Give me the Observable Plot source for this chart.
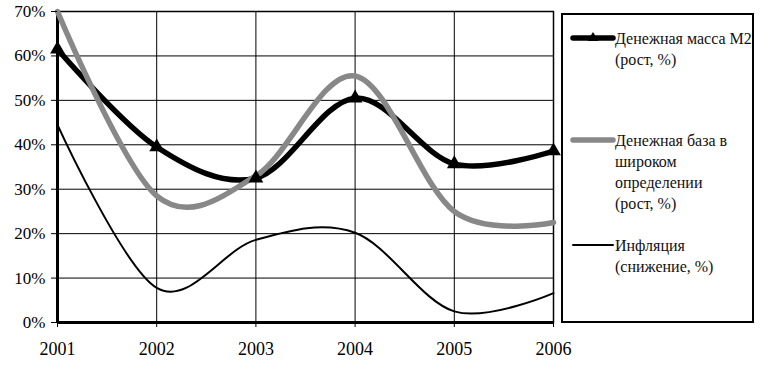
<!DOCTYPE html>
<html>
<head>
<meta charset="utf-8">
<script src="https://cdn.jsdelivr.net/npm/d3@7"></script>
<script src="https://cdn.jsdelivr.net/npm/@observablehq/plot@0.6"></script>
<style>
  body { margin: 0; padding: 0; background: #fff; font: 16px 'Liberation Serif', monospace; }
  svg text { font-family: 'Liberation Serif', monospace; }
</style>
</head>
<body style="font:16px 'Liberation Serif', monospace">
<div id="wrap" style="position:relative;width:767px;height:365px;font:16px 'Liberation Serif', monospace">
  <div id="p"></div>
  <div id="legend" style="position:absolute;left:561px;top:13px;width:189px;height:306px;border:2px solid #000;background:#fff;font:16px/21px 'Liberation Serif', monospace;color:#111"></div>
</div>
<script>
const years = [2001, 2002, 2003, 2004, 2005, 2006];
const m2 = [0.615, 0.395, 0.325, 0.505, 0.357, 0.386];
const base = [0.70, 0.285, 0.33, 0.555, 0.25, 0.225];
const inflation = [0.445, 0.078, 0.186, 0.202, 0.025, 0.066];
const yTicks = [0, 0.1, 0.2, 0.3, 0.4, 0.5, 0.6, 0.7];
const legendM2 = ["Денежная масса М2", "(рост, %)"];
const legendBase = ["Денежная база в", "широком", "определении", "(рост, %)"];
const legendInf = ["Инфляция", "(снижение, %)"];

const rows = (vals) => years.map((x, i) => ({x, y: vals[i]}));
const m2Rows = rows(m2), baseRows = rows(base), infRows = rows(inflation);

const chart = Plot.plot({
  width: 767,
  height: 365,
  marginLeft: 57,
  marginRight: 214,
  marginTop: 11,
  marginBottom: 43,
  style: { fontFamily: "'Liberation Serif', monospace" },
  x: { domain: [2001, 2006], label: null },
  y: { domain: [0, 0.7], label: null },
  marks: [
    Plot.gridX(years, { stroke: "#000", strokeOpacity: 1, strokeWidth: 1 }),
    Plot.gridY(yTicks, { stroke: "#000", strokeOpacity: 1, strokeWidth: 1 }),
    Plot.frame({ stroke: "#000", strokeWidth: 1.5 }),
    Plot.ruleX([2001], { stroke: "#000", strokeWidth: 3 }),
    Plot.ruleY([0], { stroke: "#000", strokeWidth: 3 }),
    Plot.line(m2Rows, { x: "x", y: "y", stroke: "#000", strokeWidth: 5.5, curve: "cardinal", tension: 0 }),
    Plot.line(baseRows, { x: "x", y: "y", stroke: "#888", strokeWidth: 5.5, curve: "cardinal", tension: 0 }),
    Plot.line(infRows, { x: "x", y: "y", stroke: "#000", strokeWidth: 2, curve: "cardinal", tension: 0 }),
    Plot.dot(m2Rows, { x: "x", y: "y", symbol: "triangle", r: 5.5, fill: "#000", stroke: "none" }),
    Plot.axisX({ ticks: years, tickFormat: "d", tickSize: 5, tickPadding: 15, fontSize: 18 }),
    Plot.axisY({ ticks: yTicks, tickFormat: d3.format(".0%"), tickSize: 6, tickPadding: 6, fontSize: 17 })
  ]
});
document.getElementById("p").appendChild(chart);

const entries = [
  { top: 13, lines: legendM2, stroke: "#000", width: 5.5, marker: true },
  { top: 115, lines: legendBase, stroke: "#888", width: 5.5, marker: false },
  { top: 220, lines: legendInf, stroke: "#000", width: 2, marker: false }
];
let html = "";
entries.forEach((e) => {
  html += `<div style="position:absolute;left:0;top:${e.top}px;width:189px">`;
  html += `<svg width="46" height="20" style="position:absolute;left:7px;top:0"><line x1="3" x2="43" y1="10" y2="10" stroke="${e.stroke}" stroke-width="${e.width}" stroke-linecap="round"/>`;
  if (e.marker) html += `<path d="M23,4 L28.5,13 L17.5,13 Z" fill="#000"/>`;
  html += `</svg>`;
  html += `<div style="position:absolute;left:52px;top:0;white-space:nowrap;font:16px/21px 'Liberation Serif', monospace">${e.lines.join("<br>")}</div></div>`;
});
document.getElementById("legend").innerHTML = html;
</script>
</body>
</html>
